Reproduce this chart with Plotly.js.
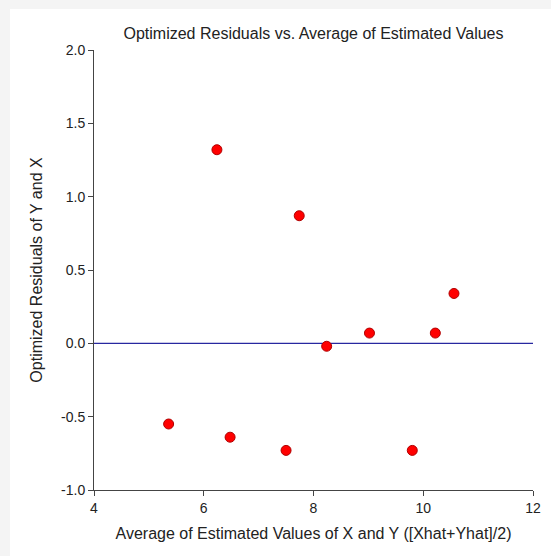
<!DOCTYPE html>
<html>
<head>
<meta charset="utf-8">
<script src="https://cdn.plot.ly/plotly-3.0.1.min.js"></script>
<style>
html,body{margin:0;padding:0;background:#f4f4f4;width:551px;height:556px;overflow:hidden;}
#chart{position:absolute;left:10px;top:9px;width:541px;height:547px;background:#fff;}
</style>
</head>
<body>
<div id="chart"></div>
<script>
const avgEstimated = [6.24, 7.74, 5.36, 6.48, 7.50, 8.24, 9.02, 10.22, 10.56, 9.80];
const residuals    = [1.32, 0.87, -0.55, -0.64, -0.73, -0.02, 0.07, 0.07, 0.34, -0.73];
const xTicks = [4, 6, 8, 10, 12];
const yTicks = [-1.0, -0.5, 0.0, 0.5, 1.0, 1.5, 2.0];
const yTickText = ['-1.0', '-0.5', '0.0', '0.5', '1.0', '1.5', '2.0'];
const referenceLevel = 0;

const font = "Liberation Sans, Arial, sans-serif";

const trace = {
  x: avgEstimated,
  y: residuals,
  mode: 'markers',
  type: 'scatter',
  marker: {color: '#ff0000', size: 10, line: {color: '#b00000', width: 1}},
  hoverinfo: 'x+y'
};

const layout = {
  width: 541, height: 547,
  margin: {l: 84, r: 18, t: 41, b: 66},
  paper_bgcolor: '#ffffff',
  plot_bgcolor: '#ffffff',
  showlegend: false,
  font: {family: font, color: '#222', size: 14},
  title: {text: 'Optimized Residuals vs. Average of Estimated Values', x: 0.5, xref: 'paper', xanchor: 'center', y: 1 - 24/547, yref: 'container', yanchor: 'middle', font: {family: font, size: 16, color: '#222'}},
  shapes: [{type: 'line', xref: 'paper', x0: 0, x1: 1, yref: 'y', y0: referenceLevel, y1: referenceLevel, line: {color: '#2828a0', width: 1.2}, layer: 'below'}],
  xaxis: {
    range: [4, 12], tickvals: xTicks, ticktext: xTicks.map(String),
    showgrid: false, zeroline: false, showline: true, linecolor: '#444', linewidth: 1,
    ticks: 'outside', ticklen: 5, tickcolor: '#444', tickfont: {family: font, size: 14, color: '#222'},
    title: {text: 'Average of Estimated Values of X and Y ([Xhat+Yhat]/2)', font: {family: font, size: 16, color: '#222'}, standoff: 13}
  },
  yaxis: {
    range: [-1, 2], tickvals: yTicks, ticktext: yTickText,
    showgrid: false, zeroline: false,
    showline: true, linecolor: '#444', linewidth: 1,
    ticks: 'outside', ticklen: 5, tickcolor: '#444', tickfont: {family: font, size: 14, color: '#222'},
    title: {text: 'Optimized Residuals of Y and X', font: {family: font, size: 16, color: '#222'}, standoff: 14}
  }
};

Plotly.newPlot('chart', [trace], layout, {displayModeBar: false, staticPlot: true});
</script>
</body>
</html>
